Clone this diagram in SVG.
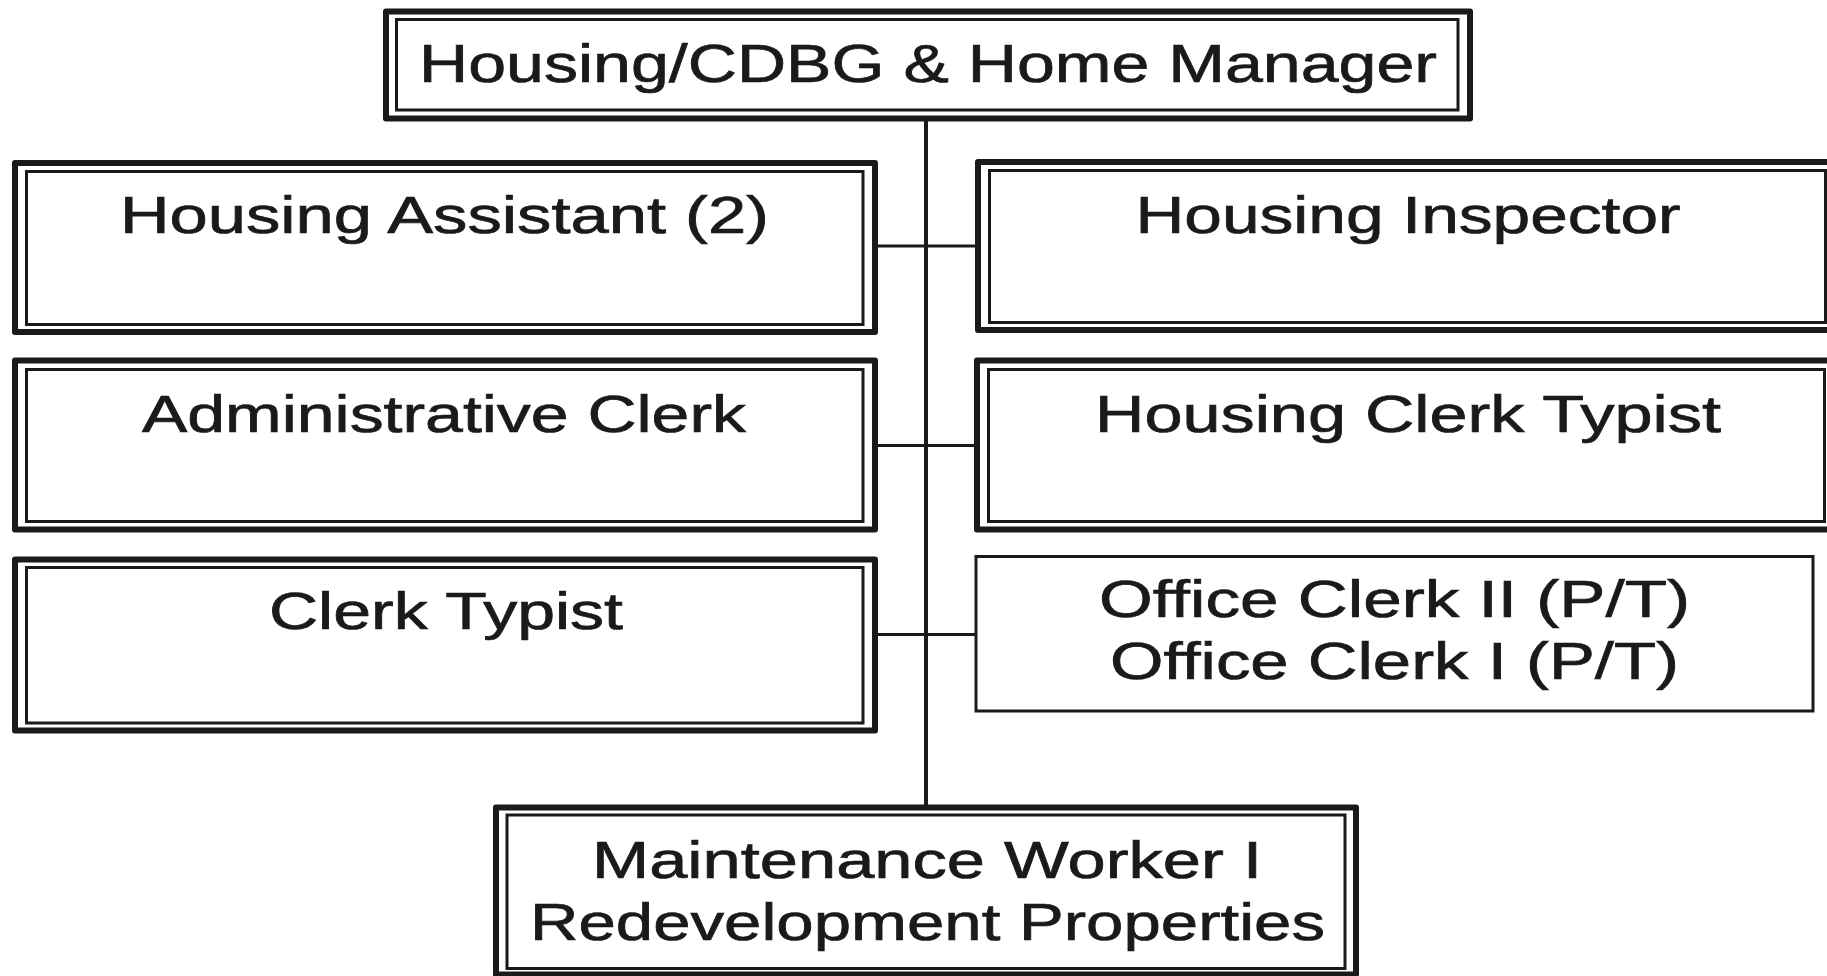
<svg xmlns="http://www.w3.org/2000/svg" width="1827" height="976" viewBox="0 0 1827 976">
<style>
.o{fill:none;stroke:#1a1a1a;stroke-width:6;stroke-linejoin:round}
.i{fill:none;stroke:#1a1a1a;stroke-width:3}
.s{fill:none;stroke:#1a1a1a;stroke-width:3}
.c{stroke:#1a1a1a;stroke-width:3;fill:none}
.v{stroke:#1a1a1a;stroke-width:4;fill:none}
text{font-family:"Liberation Sans",Arial,sans-serif;fill:#1a1a1a;stroke:#1a1a1a;stroke-width:0.7;text-anchor:middle}
.t{font-size:52px}
.tt{font-size:54px}
</style>
<rect width="1827" height="976" fill="#ffffff"/>
<g id="connectors">
<line class="v" x1="926" y1="118" x2="926" y2="807"/>
<line class="c" x1="875" y1="246" x2="978" y2="246"/>
<line class="c" x1="875" y1="445.5" x2="977" y2="445.5"/>
<line class="c" x1="875" y1="634.5" x2="976" y2="634.5"/>
</g>
<g id="manager">
<rect class="o" x="386" y="11.5" width="1084" height="107"/>
<rect class="i" x="396.5" y="19.5" width="1061.5" height="90.5"/>
<text class="tt" x="928" y="82" textLength="1018" lengthAdjust="spacingAndGlyphs">Housing/CDBG &amp; Home Manager</text>
</g>
<g id="housing-assistant">
<rect class="o" x="15" y="163" width="860" height="169"/>
<rect class="i" x="26.5" y="171.5" width="836.5" height="153"/>
<text class="t" x="444.5" y="233" textLength="649" lengthAdjust="spacingAndGlyphs">Housing Assistant (2)</text>
</g>
<g id="housing-inspector">
<rect class="o" x="978" y="162" width="860" height="168"/>
<rect class="i" x="989.5" y="170.5" width="836" height="152"/>
<text class="t" x="1408" y="233" textLength="545" lengthAdjust="spacingAndGlyphs">Housing Inspector</text>
</g>
<g id="administrative-clerk">
<rect class="o" x="15" y="360.5" width="860" height="169"/>
<rect class="i" x="26.5" y="369.5" width="836.5" height="152"/>
<text class="t" x="444" y="432" textLength="604" lengthAdjust="spacingAndGlyphs">Administrative Clerk</text>
</g>
<g id="housing-clerk-typist">
<rect class="o" x="977" y="360.5" width="860" height="169"/>
<rect class="i" x="988.5" y="369.5" width="836" height="152"/>
<text class="t" x="1408" y="432" textLength="626" lengthAdjust="spacingAndGlyphs">Housing Clerk Typist</text>
</g>
<g id="clerk-typist">
<rect class="o" x="15" y="559.5" width="860" height="171"/>
<rect class="i" x="26.5" y="567.5" width="836.5" height="155.5"/>
<text class="t" x="446" y="629" textLength="354" lengthAdjust="spacingAndGlyphs">Clerk Typist</text>
</g>
<g id="office-clerk">
<rect class="s" x="976" y="556.5" width="837" height="154.5"/>
<text class="t" x="1394.5" y="617" textLength="591" lengthAdjust="spacingAndGlyphs">Office Clerk II (P/T)</text>
<text class="t" x="1394.5" y="679" textLength="569" lengthAdjust="spacingAndGlyphs">Office Clerk I (P/T)</text>
</g>
<g id="maintenance-worker">
<rect class="o" x="496" y="807.5" width="860" height="167"/>
<rect class="i" x="507" y="815" width="838" height="153.5"/>
<text class="t" x="927" y="878" textLength="670" lengthAdjust="spacingAndGlyphs">Maintenance Worker I</text>
<text class="t" x="927.5" y="940" textLength="795" lengthAdjust="spacingAndGlyphs">Redevelopment Properties</text>
</g>
</svg>
